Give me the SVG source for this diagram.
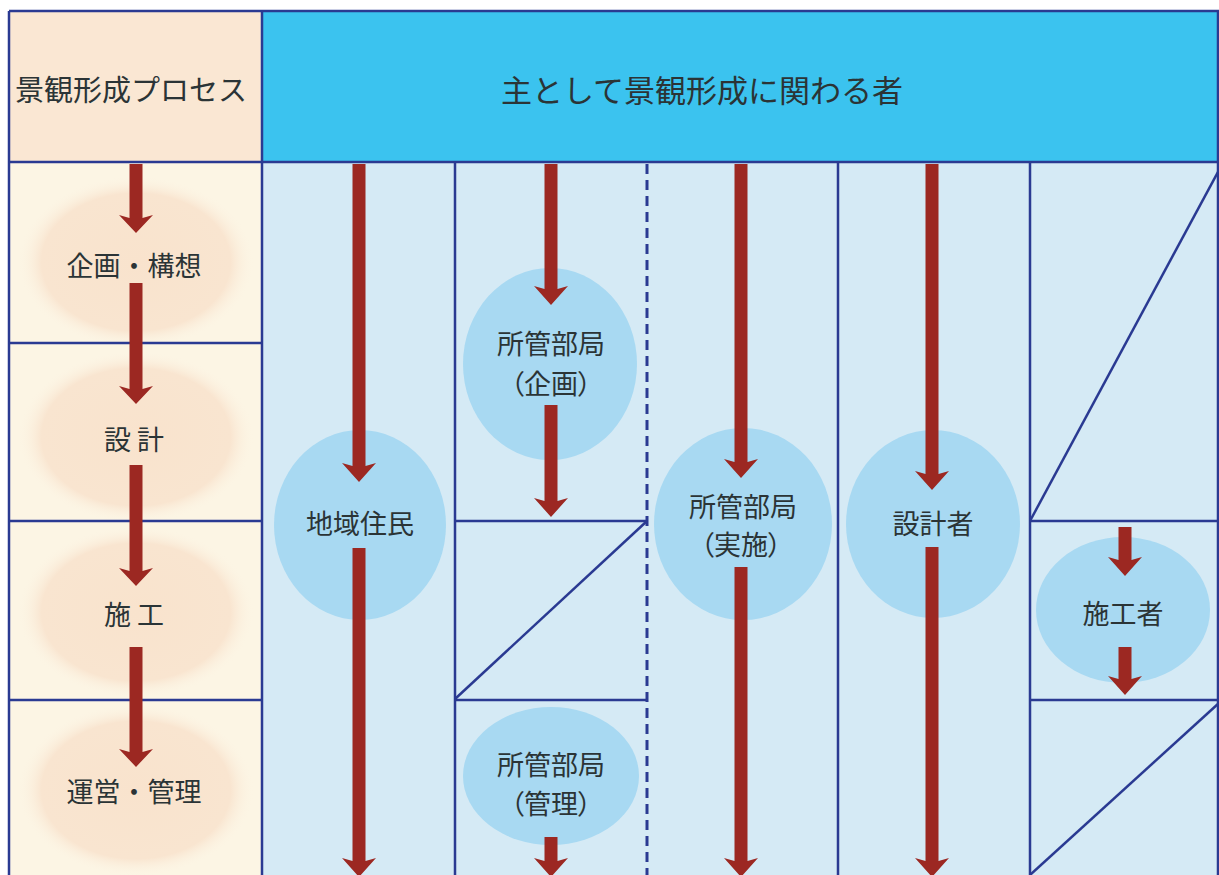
<svg xmlns="http://www.w3.org/2000/svg" width="1219" height="875" viewBox="0 0 1219 875">
  <defs>
    <radialGradient id="peach" cx="50%" cy="50%" r="50%">
      <stop offset="0%" stop-color="#f9e3cd"/>
      <stop offset="80%" stop-color="#f9e5d0"/>
      <stop offset="100%" stop-color="#fcf4e4" stop-opacity="0"/>
    </radialGradient>
  </defs>
  <style>
    .grid { stroke: #2a3a92; stroke-width: 2.5; fill: none; }
    .dash { stroke: #2a3a92; stroke-width: 3; fill: none; stroke-dasharray: 10 6; }
    .arr { fill: #9c2822; }
    .node { fill: #a8d9f2; }
    .pe { fill: url(#peach); }
    .t { font-family: "Noto Sans CJK JP", "Noto Sans", sans-serif; fill: #2b3436; text-anchor: middle; dominant-baseline: central; }
    .p { font-feature-settings: "palt"; }
    .tl { font-size: 27px; }
    .tn { font-size: 27px; }
    .th { font-size: 31px; }
    .ts { font-size: 29px; }
  </style>

  <!-- backgrounds -->
  <rect x="0" y="0" width="1219" height="875" fill="#ffffff"/>
  <rect x="9" y="11" width="253" height="151" fill="#fae7d3"/>
  <rect x="262" y="11" width="957" height="151" fill="#3bc3ef"/>
  <rect x="9" y="162" width="253" height="713" fill="#fcf5e4"/>
  <rect x="262" y="162" width="957" height="713" fill="#d5eaf5"/>

  <!-- left column soft ellipses -->
  <g id="process">
    <ellipse class="pe" cx="136" cy="262" rx="118" ry="86"/>
    <ellipse class="pe" cx="136" cy="437" rx="118" ry="86"/>
    <ellipse class="pe" cx="136" cy="612" rx="118" ry="86"/>
    <ellipse class="pe" cx="136" cy="790" rx="118" ry="86"/>
  </g>

  <!-- grid lines -->
  <g id="grid">
    <line class="grid" x1="9" y1="11" x2="1219" y2="11"/>
    <line class="grid" x1="9" y1="162" x2="1219" y2="162"/>
    <line class="grid" x1="9" y1="11" x2="9" y2="875"/>
    <line class="grid" x1="262" y1="11" x2="262" y2="875"/>
    <line class="grid" x1="1218" y1="11" x2="1218" y2="875"/>
    <line class="grid" x1="9" y1="343" x2="262" y2="343"/>
    <line class="grid" x1="9" y1="521" x2="262" y2="521"/>
    <line class="grid" x1="9" y1="700" x2="262" y2="700"/>
    <line class="grid" x1="455" y1="162" x2="455" y2="875"/>
    <line class="grid" x1="838" y1="162" x2="838" y2="875"/>
    <line class="grid" x1="1030" y1="162" x2="1030" y2="875"/>
    <line class="dash" x1="647" y1="164" x2="647" y2="875"/>
    <line class="grid" x1="455" y1="521" x2="647" y2="521"/>
    <line class="grid" x1="455" y1="699" x2="647" y2="521"/>
    <line class="grid" x1="455" y1="700" x2="647" y2="700"/>
    <line class="grid" x1="1030" y1="521" x2="1219" y2="521"/>
    <line class="grid" x1="1030" y1="521" x2="1219" y2="170"/>
    <line class="grid" x1="1030" y1="700" x2="1219" y2="700"/>
    <line class="grid" x1="1030" y1="875" x2="1219" y2="703"/>
  </g>

  <!-- headers -->
  <g id="header-process">
    <text class="t ts" x="131" y="88">景観形成プロセス</text>
  </g>
  <g id="header-actors">
    <text class="t th" x="702" y="88">主として景観形成に関わる者</text>
  </g>

  <!-- actor nodes -->
  <g id="node-residents">
    <ellipse class="node" cx="360" cy="525" rx="86" ry="95"/>
    <text class="t tn" x="360" y="522">地域住民</text>
  </g>
  <g id="node-dept-plan">
    <ellipse class="node" cx="550" cy="364" rx="87" ry="96"/>
    <text class="t tn" x="551" y="342">所管部局</text>
    <text class="t tn p" x="551" y="382">（企画）</text>
  </g>
  <g id="node-dept-impl">
    <ellipse class="node" cx="743" cy="524" rx="89" ry="96"/>
    <text class="t tn" x="743" y="505">所管部局</text>
    <text class="t tn p" x="741" y="543">（実施）</text>
  </g>
  <g id="node-designer">
    <ellipse class="node" cx="933" cy="524" rx="87" ry="94"/>
    <text class="t tn" x="933" y="522">設計者</text>
  </g>
  <g id="node-builder">
    <ellipse class="node" cx="1123" cy="610" rx="87" ry="73"/>
    <text class="t tn" x="1123" y="612">施工者</text>
  </g>
  <g id="node-dept-mgmt">
    <ellipse class="node" cx="551" cy="776" rx="88" ry="69"/>
    <text class="t tn" x="551" y="763">所管部局</text>
    <text class="t tn p" x="551" y="802">（管理）</text>
  </g>

  <!-- process labels -->
  <g id="step-plan"><text class="t tl" x="134" y="264">企画・構想</text></g>
  <g id="step-design"><text class="t tl" x="134" y="438">設 計</text></g>
  <g id="step-build"><text class="t tl" x="134" y="613">施 工</text></g>
  <g id="step-manage"><text class="t tl" x="134" y="790">運営・管理</text></g>

  <!-- connectors -->
  <g id="connectors">
    <path class="arr" d="M129.5 164 H142.5 V218 L153 215 L136 233 L119 215 L129.5 218 Z"/>
    <path class="arr" d="M129.5 283 H142.5 V389 L153 386 L136 404 L119 386 L129.5 389 Z"/>
    <path class="arr" d="M129.5 465 H142.5 V571 L153 568 L136 586 L119 568 L129.5 571 Z"/>
    <path class="arr" d="M129.5 647 H142.5 V752 L153 749 L136 767 L119 749 L129.5 752 Z"/>
    <path class="arr" d="M352.5 164 H365.5 V466 L376 463 L359 482 L342 463 L352.5 466 Z"/>
    <path class="arr" d="M352.5 548 H365.5 V861 L376 858 L359 877 L342 858 L352.5 861 Z"/>
    <path class="arr" d="M544.5 164 H557.5 V289 L568 286 L551 305 L534 286 L544.5 289 Z"/>
    <path class="arr" d="M544.5 405 H557.5 V501 L568 498 L551 517 L534 498 L544.5 501 Z"/>
    <path class="arr" d="M544.5 837 H557.5 V861 L568 858 L551 877 L534 858 L544.5 861 Z"/>
    <path class="arr" d="M734.5 164 H747.5 V462 L758 459 L741 478 L724 459 L734.5 462 Z"/>
    <path class="arr" d="M734.5 567 H747.5 V861 L758 858 L741 877 L724 858 L734.5 861 Z"/>
    <path class="arr" d="M925.5 164 H938.5 V474 L949 471 L932 490 L915 471 L925.5 474 Z"/>
    <path class="arr" d="M925.5 547 H938.5 V861 L949 858 L932 877 L915 858 L925.5 861 Z"/>
    <path class="arr" d="M1118.5 527 H1131.5 V560 L1142 557 L1125 576 L1108 557 L1118.5 560 Z"/>
    <path class="arr" d="M1118.5 647 H1131.5 V679 L1142 676 L1125 695 L1108 676 L1118.5 679 Z"/>
  </g>
</svg>
